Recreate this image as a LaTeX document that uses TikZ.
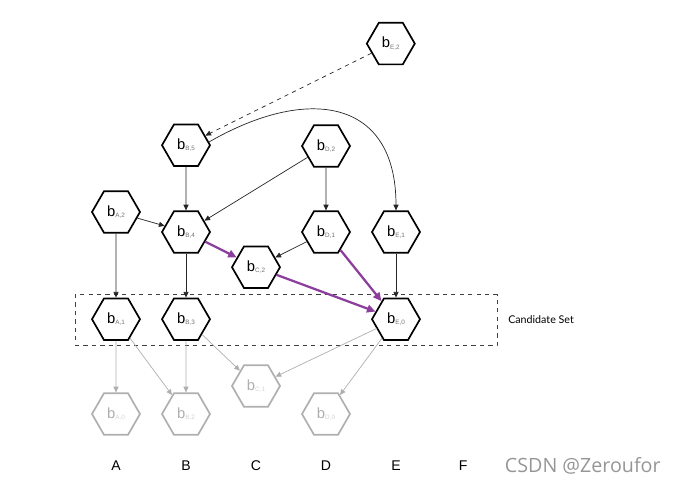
\documentclass[tikz,border=0pt]{standalone}
\usepackage{fontspec}
\setmainfont{Liberation Sans}
\newfontfamily\latofont{Lato}
\newfontfamily\marcafont{Open Sans}
\usetikzlibrary{shapes.geometric,arrows.meta,positioning}
\definecolor{morado}{RGB}{140,62,156}
\definecolor{gristenue}{RGB}{175,175,175}
\definecolor{marca}{RGB}{150,150,150}
\newcommand{\blq}[2]{b{\fontsize{4.5}{5}\selectfont\color{.!55}\raisebox{-0.45ex}{#1,#2}}}
\tikzset{
  bloque/.style={regular polygon, regular polygon sides=6, draw, line width=1.2pt,
                 minimum size=1.2cm, inner sep=0pt, font=\fontsize{10.5}{12}\selectfont},
  apagado/.style={bloque, draw=gristenue, text=gristenue},
  flecha/.style={-{Triangle[length=4pt,width=3.6pt]}, line width=0.5pt, draw=black!85},
  tenue/.style={flecha, draw=gristenue},
  ruta/.style={-{Triangle[length=6pt,width=5.5pt]}, line width=1.6pt, draw=morado},
  caja/.style={rectangle, draw=black!75, dashed, line width=0.6pt,
               minimum width=10.55cm, minimum height=1.275cm, inner sep=0pt},
  etiq/.style={font=\fontsize{10}{12}\selectfont}
}
\begin{document}
\begin{tikzpicture}
\useasboundingbox (0,0) rectangle (16.825,-12.325);

% candidate set
\node[caja] (cand) at (7.15,-8.01) {};
\node[anchor=west, inner sep=0pt, font=\latofont\fontsize{7.6}{9}\selectfont] (candlbl) at (12.7,-8.0) {Candidate Set};

% blocks
\node[bloque] (bE2) at (9.77,-1.09) {\blq{E}{2}};
\node[bloque] (bB5) at (4.65,-3.63) {\blq{B}{5}};
\node[bloque] (bD2) at (8.15,-3.65) {\blq{D}{2}};
\node[bloque] (bA2) at (2.9,-5.3) {\blq{A}{2}};
\node[bloque] (bB4) at (4.65,-5.8) {\blq{B}{4}};
\node[bloque] (bD1) at (8.15,-5.8) {\blq{D}{1}};
\node[bloque] (bE1) at (9.9,-5.8) {\blq{E}{1}};
\node[bloque] (bC2) at (6.4,-6.68) {\blq{C}{2}};
\node[bloque] (bA1) at (2.9,-7.98) {\blq{A}{1}};
\node[bloque] (bB3) at (4.65,-7.98) {\blq{B}{3}};
\node[bloque] (bE0) at (9.9,-7.98) {\blq{E}{0}};

\node[apagado] (bC1) at (6.4,-9.65) {\blq{C}{1}};
\node[apagado] (bA0) at (2.9,-10.35) {\blq{A}{0}};
\node[apagado] (bB2) at (4.65,-10.35) {\blq{B}{2}};
\node[apagado] (bD0) at (8.15,-10.35) {\blq{D}{0}};

% columns
\foreach \c/\x in {A/2.9,B/4.65,C/6.4,D/8.15,E/9.9,F/11.58}
  \node[etiq] (col\c) at (\x,-11.65) {\c};

\node[font=\marcafont\fontsize{14}{16}\selectfont, text=marca] (wm) at (14.57,-11.65) {CSDN @Zeroufor};

% edges
\draw[flecha, dashed] (bE2) -- (bB5);
\draw[flecha] (bB5.8) to[out=30,in=90,looseness=1.45] (bE1);
\draw[flecha] (bB5) -- (bB4);
\draw[flecha] (bD2) -- (bB4);
\draw[flecha] (bD2) -- (bD1);
\draw[flecha] (bA2) -- (bB4);
\draw[flecha] (bD1) -- (bC2);
\draw[flecha] (bE1) -- (bE0);
\draw[flecha] (bA2) -- (bA1);
\draw[flecha] (bB4) -- (bB3);

\draw[ruta] (bB4) -- (bC2);
\draw[ruta] (bC2) -- (bE0);
\draw[ruta] (bD1) -- (bE0);

\draw[tenue] (bA1) -- (bA0);
\draw[tenue] (bA1) -- (bB2);
\draw[tenue] (bB3) -- (bB2);
\draw[tenue] (bB3) -- (bC1);
\draw[tenue] (bE0) -- (bC1);
\draw[tenue] (bE0) -- (bD0);
\end{tikzpicture}
\end{document}
